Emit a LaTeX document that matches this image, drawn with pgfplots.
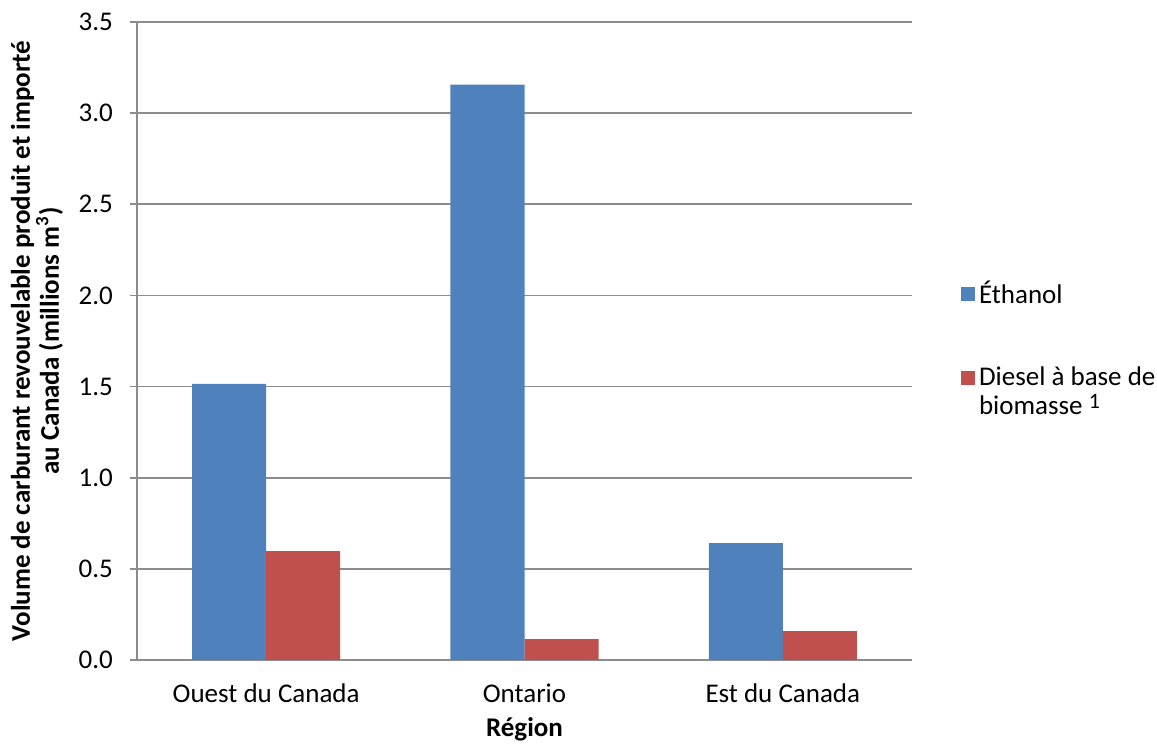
\documentclass[border=0pt]{standalone}
\usepackage{pgfplots}
\pgfplotsset{compat=1.18}
\usepackage{fontspec}
\setmainfont{Carlito}
\usetikzlibrary{calc}
\definecolor{ethBlue}{HTML}{4F81BD}
\definecolor{dieRed}{HTML}{C0504D}
\definecolor{gridGray}{HTML}{8C8C8C}

\begin{document}
\begin{tikzpicture}
\begin{axis}[
  scale only axis,
  width=387.5pt, height=319pt,
  ybar, ybar=0pt, bar width=37pt,
  xmin=-0.5, xmax=2.5, ymin=0, ymax=3.5,
  xtick={0,1,2}, xticklabels={Ouest du Canada, Ontario, Est du Canada},
  ytick={0,0.5,...,3.5},
  yticklabel style={xshift=-5pt, /pgf/number format/.cd, fixed, fixed zerofill, precision=1},
  /pgf/number format/assume math mode=true,
  axis x line*=bottom, axis y line*=left,
  axis line style={gridGray, line width=0.9pt, -},
  ymajorgrids, grid style={gridGray, line width=0.9pt},
  major x tick style={draw=none},
  major y tick style={gridGray, line width=0.9pt},
  tick align=outside, major tick length=3.5pt,
  font=\fontsize{13.5}{14.5}\selectfont,
  xticklabel style={yshift=-5pt},
  xlabel={\textbf{Région}},
  ylabel={\textbf{Volume de carburant revouvelable produit et importé}\\\textbf{au Canada (millions m\textsuperscript{3})}},
  ylabel style={align=center, yshift=1pt},
  xlabel style={yshift=-0.5pt},
  legend style={at={(1.055,0.487)}, anchor=west, draw=none, fill=none,
    cells={anchor=west, align=left}, row sep=26pt,
    font=\fontsize{13.5}{14.5}\selectfont},
  legend image code/.code={\fill[#1] (0pt,-3.5pt) rectangle (7pt,3.5pt);},
  every axis plot/.append style={draw=none},
]
\addplot[fill=ethBlue] coordinates {(0,1.515) (1,3.157) (2,0.641)};
\addlegendentry{Éthanol}
\addplot[fill=dieRed, legend image code/.code={\fill[dieRed] (0pt,3.75pt) rectangle (7pt,10.75pt);}]
  coordinates {(0,0.597) (1,0.115) (2,0.159)};
\addlegendentry{Diesel à base de\\biomasse \raisebox{3pt}{\fontsize{11}{11}\selectfont 1}}
\end{axis}
\pgfresetboundingbox
\path[use as bounding box] ($(current axis.south west)+(-68.5pt,-43pt)$) rectangle ($(current axis.north east)+(122.5pt,11pt)$);
\end{tikzpicture}
\end{document}
